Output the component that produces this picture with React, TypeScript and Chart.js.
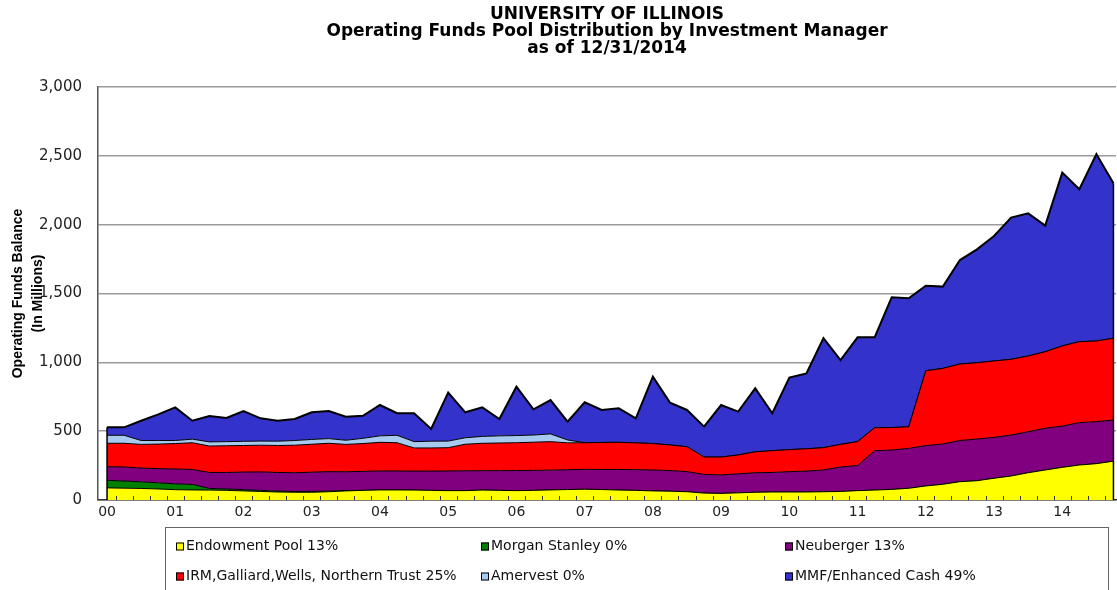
import React, { useEffect, useRef } from 'react';
import { Chart, registerables } from 'chart.js';

Chart.register(...registerables);

// ---- Data (quarterly, 2000 Q1 .. 2014 Q4, $ millions) ----
const yearLabels = ['00', '01', '02', '03', '04', '05', '06', '07', '08', '09', '10', '11', '12', '13', '14'];

const endowment = [
  88, 86, 84, 80, 75, 73, 72, 70, 66, 62,
  58, 56, 56, 60, 66, 70, 73, 73, 72, 70,
  68, 68, 72, 70, 68, 70, 73, 76, 78, 76,
  72, 70, 66, 64, 60, 50, 48, 52, 56, 58,
  58, 58, 60, 62, 68, 72, 77, 85, 102, 114,
  133, 140, 158, 174, 198, 218, 237, 254, 264, 282,
];
const morganStanley = [
  55, 52, 48, 45, 42, 40, 12, 10, 9, 8,
  7, 6, 6, 5, 3, 0, 0, 0, 0, 0,
  0, 0, 0, 0, 0, 0, 0, 0, 0, 0,
  0, 0, 0, 0, 0, 0, 0, 0, 0, 0,
  0, 0, 0, 0, 0, 0, 0, 0, 0, 0,
  0, 0, 0, 0, 0, 0, 0, 0, 0, 0,
];
const neuberger = [
  99, 102, 100, 103, 108, 109, 116, 120, 128, 134,
  135, 136, 140, 141, 136, 138, 138, 138, 138, 140,
  143, 144, 141, 143, 146, 145, 144, 144, 145, 146,
  150, 150, 152, 150, 146, 136, 134, 138, 142, 142,
  148, 152, 158, 178, 182, 286, 286, 290, 293, 293,
  299, 303, 297, 298, 298, 303, 300, 308, 305, 299,
];
const irmGroup = [
  170, 172, 172, 178, 185, 194, 192, 194, 193, 194,
  196, 200, 203, 206, 199, 202, 208, 205, 168, 168,
  169, 193, 199, 201, 202, 205, 207, 195, 193, 196,
  197, 195, 192, 186, 181, 126, 130, 137, 152, 158,
  160, 162, 162, 164, 174, 167, 163, 157, 544, 549,
  556, 554, 555, 550, 550, 556, 582, 588, 586, 594,
];
const amervest = [
  58, 58, 28, 26, 22, 26, 30, 30, 30, 30,
  31, 34, 35, 34, 30, 38, 47, 54, 46, 49,
  48, 47, 50, 52, 52, 52, 56, 21, 0, 0,
  0, 0, 0, 0, 0, 0, 0, 0, 0, 0,
  0, 0, 0, 0, 0, 0, 0, 0, 0, 0,
  0, 0, 0, 0, 0, 0, 0, 0, 0, 0,
];
const mmfCash = [
  58, 58, 144, 190, 241, 134, 188, 172, 220, 165,
  149, 156, 197, 200, 171, 164, 224, 160, 206, 89,
  352, 185, 211, 122, 355, 187, 246, 133, 294, 236,
  247, 178, 486, 307, 267, 221, 378, 315, 461, 272,
  523, 548, 795, 613, 758, 657, 946, 933, 618, 594,
  755, 824, 908, 1029, 1036, 916, 1259, 1107, 1358, 1125,
];

const seriesNames = [
  'Endowment Pool 13%',
  'Morgan Stanley 0%',
  'Neuberger 13%',
  'IRM,Galliard,Wells, Northern Trust 25%',
  'Amervest 0%',
  'MMF/Enhanced Cash 49%',
];
const seriesValues = [endowment, morganStanley, neuberger, irmGroup, amervest, mmfCash];
const seriesColors = ['#FFFF00', '#008000', '#800080', '#FF0000', '#A6CAF0', '#3333CC'];

const titleLines = [
  'UNIVERSITY OF ILLINOIS',
  'Operating Funds Pool Distribution by Investment Manager',
  'as of 12/31/2014',
];
const yTitleLines = ['Operating Funds Balance', '(In Millions)'];

const HFONT = "'DejaVu Sans', 'Liberation Sans', Arial, sans-serif";

// Inner quarter tick marks + vertical edges of the area stack
const decorPlugin = {
  id: 'decor',
  afterDatasetsDraw(chart: any) {
    const { ctx, scales } = chart;
    const xs = scales.x;
    const ys = scales.y;
    const n = endowment.length;
    ctx.save();
    const firstTotal = seriesValues.reduce((s, a) => s + a[0], 0);
    const lastTotal = seriesValues.reduce((s, a) => s + a[n - 1], 0);
    ctx.strokeStyle = '#000';
    ctx.lineWidth = 1.5;
    ctx.beginPath();
    ctx.moveTo(xs.getPixelForValue(0), ys.getPixelForValue(firstTotal));
    ctx.lineTo(xs.getPixelForValue(0), ys.getPixelForValue(0));
    ctx.moveTo(xs.getPixelForValue(n - 1), ys.getPixelForValue(lastTotal));
    ctx.lineTo(xs.getPixelForValue(n - 1), ys.getPixelForValue(0));
    ctx.stroke();
    ctx.strokeStyle = '#333';
    ctx.lineWidth = 1;
    ctx.beginPath();
    const yb = ys.getPixelForValue(0);
    for (let i = 0; i < n - 1; i++) {
      const x = Math.round(xs.getPixelForValue(i + 0.5)) + 0.5;
      ctx.moveTo(x, yb);
      ctx.lineTo(x, yb - 4);
    }
    ctx.stroke();
    ctx.restore();
  },
};

// Boxed three-column legend under the chart
const boxLegendPlugin = {
  id: 'boxLegend',
  afterDraw(chart: any) {
    const { ctx, chartArea } = chart;
    const ds = chart.data.datasets;
    const boxLeft = 165.5;
    const boxTop = chartArea.bottom + 27.5;
    const boxRight = 1108.5;
    ctx.save();
    ctx.strokeStyle = '#666';
    ctx.lineWidth = 1;
    ctx.strokeRect(boxLeft, boxTop, boxRight - boxLeft, 100);
    const colX = [176, 481, 785];
    const rowY = [boxTop + 19, boxTop + 49];
    ctx.font = `14px ${HFONT}`;
    ctx.textBaseline = 'middle';
    ctx.textAlign = 'left';
    ds.forEach((d: any, k: number) => {
      const cx = colX[k % 3];
      const cy = rowY[Math.floor(k / 3)];
      ctx.fillStyle = d.backgroundColor;
      ctx.fillRect(cx, cy - 4, 8, 8);
      ctx.strokeStyle = '#000';
      ctx.strokeRect(cx + 0.5, cy - 3.5, 7, 7);
      ctx.fillStyle = '#111';
      ctx.fillText(d.label, cx + 10, cy);
    });
    ctx.restore();
  },
};

export default function App() {
  const canvasRef = useRef<HTMLCanvasElement | null>(null);

  useEffect(() => {
    if (!canvasRef.current) return;
    const datasets = seriesValues.map((arr, k) => ({
      label: seriesNames[k],
      data: arr.map((v, i) => ({ x: i, y: v })),
      backgroundColor: seriesColors[k],
      borderColor: '#000',
      borderWidth: k === seriesValues.length - 1 ? 2 : 1,
      fill: k === 0 ? 'origin' : '-1',
      pointRadius: 0,
      tension: 0,
    }));
    const yearTicks = yearLabels.map((_, k) => k * 4);

    const chart = new Chart(canvasRef.current, {
      type: 'line',
      data: { datasets },
      plugins: [decorPlugin, boxLegendPlugin],
      options: {
        animation: false,
        responsive: true,
        maintainAspectRatio: false,
        events: [],
        layout: { padding: { top: 0, left: 0, right: 1, bottom: 68 } },
        plugins: {
          legend: { display: false },
          tooltip: { enabled: false },
          title: {
            display: true,
            fullSize: false,
            text: titleLines,
            color: '#000',
            font: { family: HFONT, weight: 'bold', size: 17, lineHeight: 1 },
            padding: { top: 6.5, bottom: 29.5 },
          },
        },
        scales: {
          x: {
            type: 'linear',
            min: -0.53,
            max: 59.15,
            afterBuildTicks: (s: any) => {
              s.ticks = yearTicks.map((v) => ({ value: v }));
            },
            ticks: {
              autoSkip: false,
              maxRotation: 0,
              padding: 4,
              color: '#222',
              font: { family: HFONT, size: 14 },
              callback: (v: any) => yearLabels[Math.round(Number(v) / 4)],
            },
            grid: { display: false, drawTicks: false },
            border: { display: true, color: '#333', width: 1.5 },
            afterFit: (s: any) => {
              s.height = 22;
            },
          },
          y: {
            stacked: true,
            min: 0,
            max: 3000,
            ticks: {
              stepSize: 500,
              padding: 16,
              color: '#222',
              font: { family: HFONT, size: 15 },
              callback: (v: any) => Number(v).toLocaleString('en-US'),
            },
            grid: { color: '#9a9a9a', lineWidth: 1.5, drawTicks: false },
            border: { display: true, color: '#555', width: 1.5 },
            title: {
              display: true,
              text: yTitleLines,
              color: '#000',
              font: { family: "'Liberation Sans', Arial, sans-serif", weight: 'bold', size: 14, lineHeight: 20 / 14 },
              padding: { top: 8, bottom: 0 },
            },
            afterFit: (s: any) => {
              s.width = 98;
            },
          },
        },
      } as any,
    });
    return () => chart.destroy();
  }, []);

  return (
    <div style={{ position: 'absolute', left: 0, top: 0, width: 1117, height: 590, background: '#fff' }}>
      <canvas ref={canvasRef} />
    </div>
  );
}
